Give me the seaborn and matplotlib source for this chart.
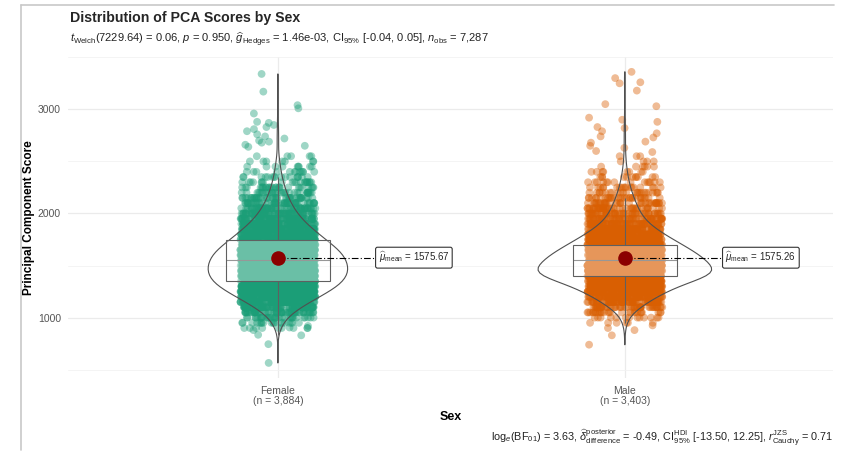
import matplotlib
matplotlib.use('Agg')
import matplotlib.pyplot as plt
from matplotlib.lines import Line2D
import numpy as np
import pandas as pd
import seaborn as sns

# Data (frequency table per 50-unit bin + sparse tail points)
groups = ['Female', 'Male']
palette = {'Female': '#1B9E77', 'Male': '#D95F02'}

female_bins = [900, 950, 1000, 1050, 1100, 1150, 1200, 1250, 1300, 1350, 1400, 1450,
               1500, 1550, 1600, 1650, 1700, 1750, 1800, 1850, 1900, 1950, 2000, 2050,
               2100, 2150, 2200, 2250, 2300, 2350, 2400, 2450, 2500, 2550]
female_counts = [9, 19, 32, 56, 87, 117, 158, 188, 227, 246, 258, 265,
                 262, 255, 245, 232, 198, 180, 152, 130, 106, 88, 72, 60,
                 48, 40, 32, 26, 20, 16, 12, 9, 7, 5]
female_tail = [565, 745, 830, 835, 880, 905, 920,
               2640, 2650, 2660, 2680, 2690, 2700, 2720, 2740, 2760, 2790,
               2810, 2830, 2850, 2870, 2880, 2960, 3010, 3040, 3170, 3340]

male_bins = [950, 1000, 1050, 1100, 1150, 1200, 1250, 1300, 1350, 1400, 1450,
             1500, 1550, 1600, 1650, 1700, 1750, 1800, 1850, 1900, 1950, 2000, 2050,
             2100, 2150, 2200, 2250, 2300, 2350, 2400, 2450, 2500, 2550]
male_counts = [6, 13, 27, 49, 80, 100, 140, 170, 215, 292, 315,
               271, 270, 246, 215, 190, 155, 130, 100, 80, 62, 52, 44,
               36, 30, 24, 18, 14, 11, 8, 6, 4, 3]
male_tail = [740, 830, 880, 900, 925,
             2590, 2600, 2630, 2650, 2680, 2690, 2730, 2740, 2770, 2790, 2820,
             2830, 2880, 2900, 2920, 3030, 3050, 3180, 3250, 3260, 3300, 3360]

mean_values = [1575.67, 1575.26]

subtitle = (r"$t_{\mathrm{Welch}}$(7229.64) = 0.06, $p$ = 0.950, "
            r"$\widehat{g}_{\mathrm{Hedges}}$ = 1.46e-03, CI$_{95\%}$ [-0.04, 0.05], "
            r"$n_{\mathrm{obs}}$ = 7,287")
caption = (r"log$_{e}$(BF$_{01}$) = 3.63, "
           r"$\widehat{\delta}_{\mathrm{difference}}^{\mathrm{posterior}}$ = -0.49, "
           r"CI$_{95\%}^{\mathrm{HDI}}$ [-13.50, 12.25], "
           r"$r_{\mathrm{Cauchy}}^{\mathrm{JZS}}$ = 0.71")

# Build long table
female = np.concatenate([np.repeat(female_bins, female_counts), female_tail])
male = np.concatenate([np.repeat(male_bins, male_counts), male_tail])
df = pd.DataFrame({
    'Sex': ['Female'] * len(female) + ['Male'] * len(male),
    'Score': np.concatenate([female, male]).astype(float),
})

sns.set_theme(style='white')
plt.rcParams['font.family'] = ['Liberation Sans', 'DejaVu Sans']
plt.rcParams['mathtext.fontset'] = 'custom'
plt.rcParams['mathtext.rm'] = 'Liberation Sans'
plt.rcParams['mathtext.it'] = 'Liberation Sans:italic'
plt.rcParams['mathtext.bf'] = 'Liberation Sans:bold'

np.random.seed(3)
fig = plt.figure(figsize=(8.5, 4.53), dpi=100)
ax = fig.add_axes([0.080, 0.166, 0.900, 0.708])

# Points
sns.stripplot(data=df, x='Sex', y='Score', hue='Sex', order=groups, palette=palette,
              jitter=0.108, size=5.6, alpha=0.42, linewidth=0, legend=False,
              zorder=1, ax=ax)

# Violin outline
sns.violinplot(data=df, x='Sex', y='Score', order=groups, inner=None, cut=0,
               width=0.5, density_norm='area', fill=False, color='#505050',
               linewidth=0.8, bw_adjust=1.15, ax=ax)

# Box with faint white fill, no caps
n_before = len(ax.patches)
sns.boxplot(data=df, x='Sex', y='Score', order=groups, width=0.3, showfliers=False,
            showcaps=False, color='white', linecolor='#606060', linewidth=0.8, ax=ax)
for p in ax.patches[n_before:]:
    p.set_facecolor((1, 1, 1, 0.35))
    p.set_zorder(3)

# Means + labels
for i, m in enumerate(mean_values):
    ax.plot([i, i + 0.29], [m, m], color='black', lw=0.8,
            linestyle=(0, (6, 2, 1, 2)), zorder=4)
    ax.scatter([i], [m], s=90, color='#8B0000', zorder=5)
    ax.text(i + 0.29, m, r"$\widehat{\mu}_{\mathrm{mean}}$" + f" = {m:.2f}",
            fontsize=7, va='center', ha='left', zorder=6,
            bbox=dict(boxstyle='round,pad=0.3,rounding_size=0.2', fc='white',
                      ec='#333333', lw=0.8))

# Axes styling
ax.set_xlim(-0.605, 1.6)
ax.set_ylim(422, 3502)
ax.set_yticks([1000, 2000, 3000])
ax.set_yticks([500, 1500, 2500, 3500], minor=True)
ax.grid(True, which='major', color='#EBEBEB', lw=0.9)
ax.grid(True, which='minor', axis='y', color='#F2F2F2', lw=0.6)
ax.set_axisbelow(True)
for s in ax.spines.values():
    s.set_visible(False)
n_obs = [len(female), len(male)]
ax.set_xticks([0, 1])
ax.set_xticklabels([f"{g}\n(n = {n:,})" for g, n in zip(groups, n_obs)],
                   fontsize=7.5, color='#555555', linespacing=0.95)
ax.tick_params(axis='both', which='major', length=3, width=0.6, color='#444444',
               labelsize=7.5, labelcolor='#555555', pad=2)
ax.tick_params(axis='both', which='minor', length=0)
ax.tick_params(axis='x', which='major', pad=3)
ax.set_xlabel('Sex', fontsize=9, fontweight='bold', color='black', labelpad=4)
ax.set_ylabel('Principal Component Score', fontsize=8.5, fontweight='bold',
              color='black', labelpad=2)

# Titles
fig.text(70 / 850, 1 - 18 / 453, 'Distribution of PCA Scores by Sex', fontsize=10.2,
         fontweight='bold', va='center', ha='left')
fig.text(70 / 850, 1 - 40 / 453, subtitle, fontsize=8.0, va='center', ha='left',
         color='#222222')
fig.text(833 / 850, 1 - 438 / 453, caption, fontsize=7.8, va='center', ha='right',
         color='#222222')

# Screenshot frame lines
fig.add_artist(Line2D([21 / 850, 21 / 850], [1 - 5 / 453, 1 - 450 / 453],
                      transform=fig.transFigure, color='#C8C8C8', lw=1.2))
fig.add_artist(Line2D([21 / 850, 834 / 850], [1 - 5 / 453, 1 - 5 / 453],
                      transform=fig.transFigure, color='#C8C8C8', lw=1.2))

fig.savefig('out.png', dpi=100)
